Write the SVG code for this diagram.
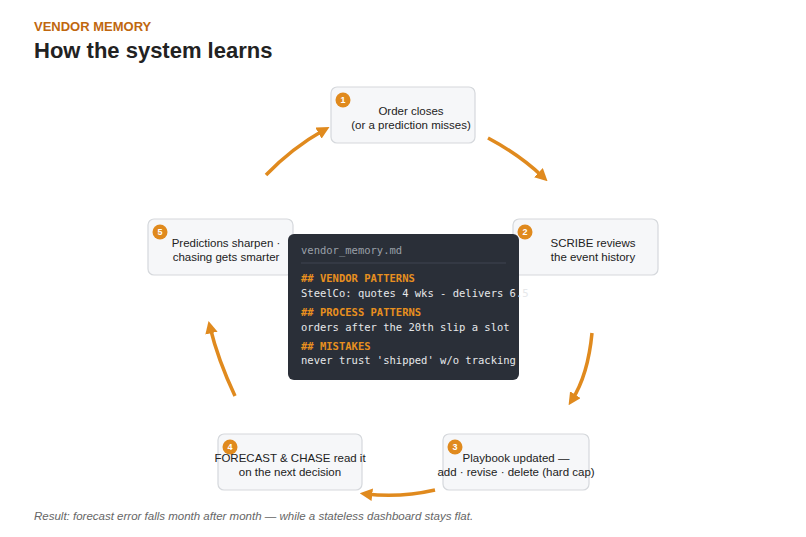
<svg xmlns="http://www.w3.org/2000/svg" width="806" height="537" viewBox="0 0 806 537">
<style>
.node rect{fill:#f6f7f9;stroke:#d5d8dc;stroke-width:1.2}
.lbl{font-family:"Liberation Sans",Arial,sans-serif;font-size:11.5px;fill:#222;text-anchor:middle}
.badge{fill:#e08a1e}
.bt{font-family:"Liberation Sans",Arial,sans-serif;font-size:9px;font-weight:bold;fill:#fff;text-anchor:middle}
.arr{fill:none;stroke:#e08a1e;stroke-width:3.5;marker-end:url(#ah)}
.mono{font-family:"DejaVu Sans Mono","Liberation Mono",monospace;font-size:10.5px}
.h{fill:#e8901f;font-weight:bold}
.t{fill:#e6e8ea}
</style>
<defs><marker id="ah" viewBox="0 0 10 10" refX="5" refY="5" markerWidth="3.6" markerHeight="3.6" orient="auto"><path d="M0,0 L10,5 L0,10 z" fill="#e08a1e"/></marker></defs>
<rect width="806" height="537" fill="#fff"/>
<text x="34" y="31" font-family="Liberation Sans,Arial,sans-serif" font-size="13" font-weight="bold" fill="#c0670f">VENDOR MEMORY</text>
<text x="34" y="58" font-family="Liberation Sans,Arial,sans-serif" font-size="22" font-weight="bold" fill="#222">How the system learns</text>
<g id="connectors">
<path class="arr" d="M488,138 Q520,155 543,177"/>
<path class="arr" d="M592,333 Q588,375 572,400"/>
<path class="arr" d="M435,490 Q400,498 366,494"/>
<path class="arr" d="M235,396 Q218,360 210,327"/>
<path class="arr" d="M266,175 Q292,148 324,130"/>
</g>
<g id="n1" class="node"><rect x="331" y="87" width="144" height="56" rx="6"/><circle class="badge" cx="343" cy="100" r="7.5"/><text class="bt" x="343" y="103">1</text><text class="lbl" x="411" y="115">Order closes</text><text class="lbl" x="411" y="129">(or a prediction misses)</text></g>
<g id="n2" class="node"><rect x="513" y="219" width="145" height="56" rx="6"/><circle class="badge" cx="525" cy="232" r="7.5"/><text class="bt" x="525" y="235">2</text><text class="lbl" x="593" y="247">SCRIBE reviews</text><text class="lbl" x="593" y="261">the event history</text></g>
<g id="n3" class="node"><rect x="443" y="434" width="146" height="56" rx="6"/><circle class="badge" cx="455" cy="447" r="7.5"/><text class="bt" x="455" y="450">3</text><text class="lbl" x="516" y="462">Playbook updated —</text><text class="lbl" x="516" y="476">add · revise · delete (hard cap)</text></g>
<g id="n4" class="node"><rect x="218" y="434" width="144" height="56" rx="6"/><circle class="badge" cx="230" cy="447" r="7.5"/><text class="bt" x="230" y="450">4</text><text class="lbl" x="290" y="462">FORECAST &amp; CHASE read it</text><text class="lbl" x="290" y="476">on the next decision</text></g>
<g id="n5" class="node"><rect x="148" y="219" width="145" height="56" rx="6"/><circle class="badge" cx="160" cy="232" r="7.5"/><text class="bt" x="160" y="235">5</text><text class="lbl" x="226" y="247">Predictions sharpen ·</text><text class="lbl" x="226" y="261">chasing gets smarter</text></g>
<g id="memory">
<rect x="288" y="234" width="231" height="146" rx="6" fill="#2a2f38"/>
<text class="mono" x="301" y="254" fill="#9aa0a8" font-size="11.5">vendor_memory.md</text>
<line x1="301" y1="263" x2="506" y2="263" stroke="#3f4550"/>
<text class="mono h" x="301" y="282">## VENDOR PATTERNS</text>
<text class="mono t" x="301" y="297">SteelCo: quotes 4 wks - delivers 6.5</text>
<text class="mono h" x="301" y="316">## PROCESS PATTERNS</text>
<text class="mono t" x="301" y="331">orders after the 20th slip a slot</text>
<text class="mono h" x="301" y="350">## MISTAKES</text>
<text class="mono t" x="301" y="364">never trust 'shipped' w/o tracking</text>
</g>
<text x="34" y="520" font-family="Liberation Sans,Arial,sans-serif" font-size="11.5" font-style="italic" fill="#666">Result: forecast error falls month after month — while a stateless dashboard stays flat.</text>
</svg>
